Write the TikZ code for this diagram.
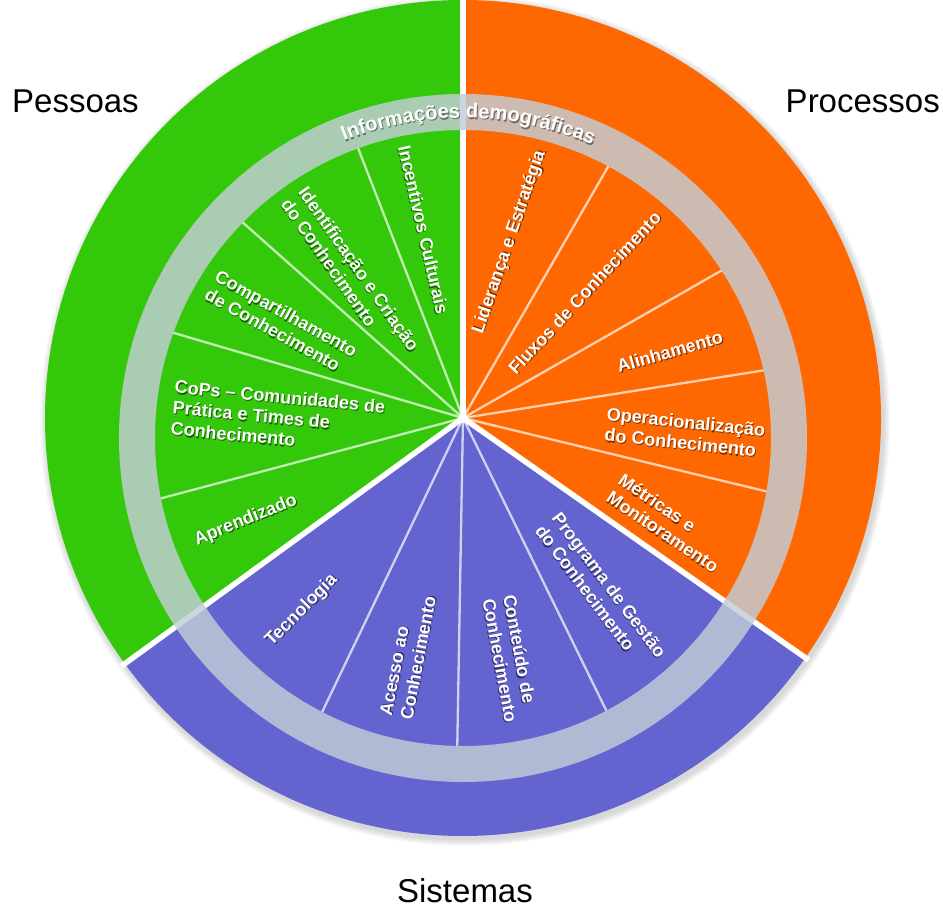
\documentclass[tikz,border=0pt]{standalone}
\usepackage{fontspec}
\setmainfont{Liberation Sans}
\usetikzlibrary{decorations.text}
\definecolor{pgreen}{RGB}{52,200,10}
\definecolor{porange}{RGB}{255,104,0}
\definecolor{pblue}{RGB}{100,100,208}
\definecolor{pring}{RGB}{195,205,215}
\colorlet{gsh}{pgreen!45!black}
\colorlet{osh}{porange!45!black}
\colorlet{bsh}{pblue!45!black}
\newcommand\shd[2]{\leavevmode\rlap{\hspace{0.9pt}\raisebox{-1.1pt}{\textcolor{#1}{#2}}}#2}
\newcommand\gt[1]{\shd{gsh}{#1}}
\newcommand\ot[1]{\shd{osh}{#1}}
\newcommand\bt[1]{\shd{bsh}{#1}}
\begin{document}
\begin{tikzpicture}[x=1pt,y=1pt,
  sep/.style={white,opacity=0.7,line width=2.3pt},
  gap/.style={white,line width=5.5pt},
  wlabel/.style={text=white,font=\bfseries\fontsize{18}{21}\selectfont,align=left,inner sep=0pt},
  biglabel/.style={text=black,font=\fontsize{33}{36}\selectfont,inner sep=0pt}]
\useasboundingbox (-463,-493) rectangle (480,418);
% soft shadow
\foreach \i in {1,...,7}{\fill[black,opacity=0.025] (2,-3) circle ({418+\i});}
% main sectors
\fill[pgreen]  (0,0) -- (90:418) arc[start angle=90,end angle=216,radius=418] -- cycle;
\fill[porange] (0,0) -- (-35:418) arc[start angle=-35,end angle=90,radius=418] -- cycle;
\fill[pblue]   (0,0) -- (216:418) arc[start angle=216,end angle=325,radius=418] -- cycle;
% inner separators
\begin{scope}
\clip (0,-20) circle (308);
\foreach \a in {111.25,138.4,163.6,194.9,244.4,269,296.1,346.4,9,29.7,60}{\draw[sep] (0,0) -- (\a:340);}
\end{scope}
\fill[white,opacity=0.6] (0,0) circle (5);
% gaps
\foreach \a in {90,216,325}{\draw[gap] (0,0) -- (\a:422);}
% ring
\fill[pring,opacity=0.82,even odd rule] (0,-20) circle (344) (0,-20) circle (308);
% ring text
\begin{scope}[opacity=0.6]
\path[decorate,decoration={text along path,text align=center,text color=black!80,
  text={|\bfseries\fontsize{20}{20}\selectfont|Informações demográficas}}]
  (1,-21.3) ++(113.5:320) arc[start angle=113.5,end angle=64.5,radius=320];
\end{scope}
\path[decorate,decoration={text along path,text align=center,text color=white,
  text={|\bfseries\fontsize{20}{20}\selectfont|Informações demográficas}}]
  (0,-20) ++(113.5:320) arc[start angle=113.5,end angle=64.5,radius=320];
% wedge labels
\node[wlabel,rotate=-77]   (inc) at (-40,188)    {\gt{Incentivos Culturais}};
\node[wlabel,rotate=-55]   (ide) at (-113,143)   {\gt{Identificação e Criação}\\\gt{do Conhecimento}};
\node[wlabel,rotate=-29]   (com) at (-182,95)    {\gt{Compartilhamento}\\\gt{de Conhecimento}};
\node[wlabel,rotate=-5.5]  (cops) at (-185,0)    {\gt{CoPs – Comunidades de}\\\gt{Prática e Times de}\\\gt{Conhecimento}};
\node[wlabel,rotate=22]    (apr) at (-217,-103)  {\gt{Aprendizado}};
\node[wlabel,rotate=45]    (tec) at (-161,-193)  {\bt{Tecnologia}};
\node[wlabel,rotate=79]    (ace) at (-54.5,-238) {\bt{Acesso ao}\\\bt{Conhecimento}};
\node[wlabel,rotate=-79.5] (con) at (47,-240.5)  {\bt{Conteúdo de}\\\bt{Conhecimento}};
\node[wlabel,rotate=-53]   (pro) at (137.5,-173.5) {\bt{Programa de Gestão}\\\bt{do Conhecimento}};
\node[wlabel,rotate=-34]   (met) at (205.5,-105.5) {\ot{Métricas e}\\\ot{Monitoramento}};
\node[wlabel,rotate=-6]    (ope) at (222,-15)    {\ot{Operacionalização}\\\ot{do Conhecimento}};
\node[wlabel,rotate=16]    (ali) at (207,66)     {\ot{Alinhamento}};
\node[wlabel,rotate=47]    (flu) at (122,125)    {\ot{Fluxos de Conhecimento}};
\node[wlabel,rotate=71]    (lid) at (47,176)     {\ot{Liderança e Estratégia}};
% outer labels
\node[biglabel,anchor=base west] (pes) at (-451,305) {Pessoas};
\node[biglabel,anchor=base east] (prc) at (477,305)  {Processos};
\node[biglabel,anchor=base]      (sis) at (2,-484)   {Sistemas};
\end{tikzpicture}
\end{document}
